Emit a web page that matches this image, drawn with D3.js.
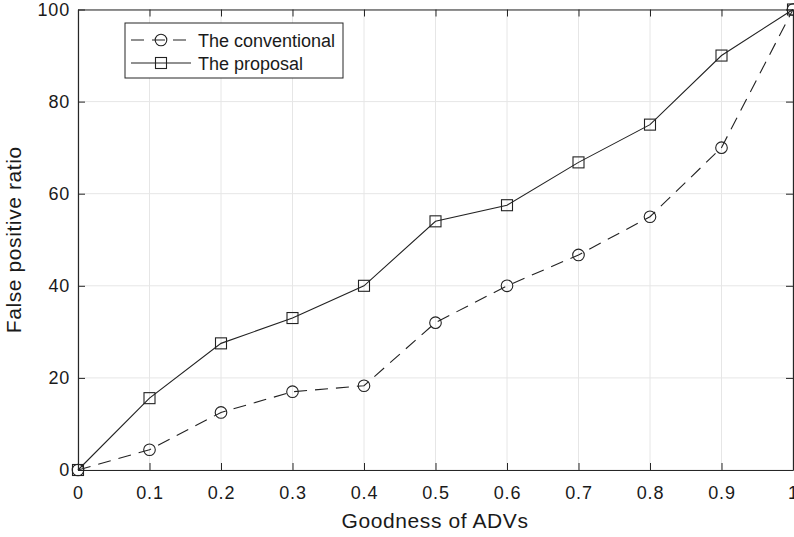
<!DOCTYPE html>
<html>
<head>
	<meta charset="utf-8">
	<title>False positive ratio</title>
	<script src="https://cdn.jsdelivr.net/npm/d3@7/dist/d3.min.js"></script>
	<style>
		body { margin: 0; background: #fff; }
		text { font-family: "Liberation Sans", Arial, sans-serif; fill: #1a1a1a; }
		.grid line { stroke: #e6e6e6; stroke-width: 1; }
		.series { fill: none; stroke: #222; stroke-width: 1.1; }
		.mark { fill: none; stroke: #222; stroke-width: 1.1; }
	</style>
</head>
<body>
	<svg id="chart" width="794" height="537"></svg>
	<script>
		var xs = [0, 0.1, 0.2, 0.3, 0.4, 0.5, 0.6, 0.7, 0.8, 0.9, 1];
		var conventional = [0, 4.4, 12.5, 17, 18.3, 32, 40, 46.7, 55, 70, 100];
		var proposal = [0, 15.6, 27.5, 33, 40, 54, 57.5, 66.8, 75, 90, 100];
		var xTicks = [0, 0.1, 0.2, 0.3, 0.4, 0.5, 0.6, 0.7, 0.8, 0.9, 1];
		var yTicks = [0, 20, 40, 60, 80, 100];

		var svg = d3.select('#chart'),
			pLeft = 78, pRight = 793, pTop = 9.5, pBottom = 470;

		var x = d3.scaleLinear().domain([0, 1]).range([pLeft, pRight]);
		var y = d3.scaleLinear().domain([0, 100]).range([pBottom, pTop]);

		// grid
		var grid = svg.append('g').attr('class', 'grid');
		grid.selectAll('.gx').data(xTicks).enter().append('line')
			.attr('x1', d => x(d)).attr('x2', d => x(d))
			.attr('y1', pTop).attr('y2', pBottom);
		grid.selectAll('.gy').data(yTicks).enter().append('line')
			.attr('x1', pLeft).attr('x2', pRight)
			.attr('y1', d => y(d)).attr('y2', d => y(d));

		// axes (box with inward ticks)
		var fmt = d => d === 0 || d === 1 ? String(d) : d3.format('.1f')(d);
		var axB = svg.append('g').attr('transform', 'translate(0,' + pBottom + ')')
			.call(d3.axisBottom(x).tickValues(xTicks).tickFormat(fmt).tickSizeInner(-7).tickSizeOuter(0).tickPadding(16.5));
		var axT = svg.append('g').attr('transform', 'translate(0,' + pTop + ')')
			.call(d3.axisTop(x).tickValues(xTicks).tickFormat('').tickSizeInner(-7).tickSizeOuter(0));
		var axL = svg.append('g').attr('transform', 'translate(' + pLeft + ',0)')
			.call(d3.axisLeft(y).tickValues(yTicks).tickSizeInner(-7).tickSizeOuter(0).tickPadding(8));
		var axR = svg.append('g').attr('transform', 'translate(' + pRight + ',0)')
			.call(d3.axisRight(y).tickValues(yTicks).tickFormat('').tickSizeInner(-7).tickSizeOuter(0));
		[axB, axT, axL, axR].forEach(function (g) {
			g.selectAll('path').attr('stroke', '#262626').attr('stroke-width', 1.2);
			g.selectAll('line').attr('stroke', '#262626');
			g.selectAll('text').style('font-size', '18px').style('letter-spacing', '0.8px').attr('fill', '#1a1a1a');
		});

		// lines
		var line = d3.line().x(d => x(d[0])).y(d => y(d[1]));
		var convData = xs.map((v, i) => [v, conventional[i]]);
		var propData = xs.map((v, i) => [v, proposal[i]]);

		svg.append('path').datum(convData).attr('class', 'series')
			.attr('stroke-dasharray', '13,8').attr('d', line);
		svg.append('path').datum(propData).attr('class', 'series').attr('d', line);

		svg.selectAll('.circ').data(convData).enter().append('circle')
			.attr('class', 'mark').attr('r', 5.8)
			.attr('cx', d => x(d[0])).attr('cy', d => y(d[1]));
		svg.selectAll('.sq').data(propData).enter().append('rect')
			.attr('class', 'mark').attr('width', 11).attr('height', 11)
			.attr('x', d => x(d[0]) - 5.5).attr('y', d => y(d[1]) - 5.5);

		// axis labels
		svg.append('text').attr('x', 435).attr('y', 528)
			.attr('text-anchor', 'middle').style('font-size', '21px').style('letter-spacing', '0.6px')
			.text('Goodness of ADVs');
		svg.append('text').attr('transform', 'translate(21,' + ((pTop + pBottom) / 2) + ') rotate(-90)')
			.attr('text-anchor', 'middle').style('font-size', '21px').style('letter-spacing', '0.6px')
			.text('False positive ratio');

		// legend
		var lg = svg.append('g');
		lg.append('rect').attr('x', 125).attr('y', 23).attr('width', 218).attr('height', 55)
			.attr('fill', '#fff').attr('stroke', '#262626').attr('stroke-width', 1);
		lg.append('line').attr('class', 'series').attr('x1', 131).attr('x2', 191)
			.attr('y1', 40).attr('y2', 40).attr('stroke-dasharray', '13,8');
		lg.append('circle').attr('class', 'mark').attr('cx', 161).attr('cy', 40).attr('r', 5.8);
		lg.append('line').attr('class', 'series').attr('x1', 131).attr('x2', 191)
			.attr('y1', 63).attr('y2', 63);
		lg.append('rect').attr('class', 'mark').attr('x', 155.5).attr('y', 57.5).attr('width', 11).attr('height', 11);
		lg.append('text').attr('x', 198).attr('y', 46.5).style('font-size', '18px').text('The conventional');
		lg.append('text').attr('x', 198).attr('y', 69.5).style('font-size', '18px').text('The proposal');
	</script>
</body>
</html>
